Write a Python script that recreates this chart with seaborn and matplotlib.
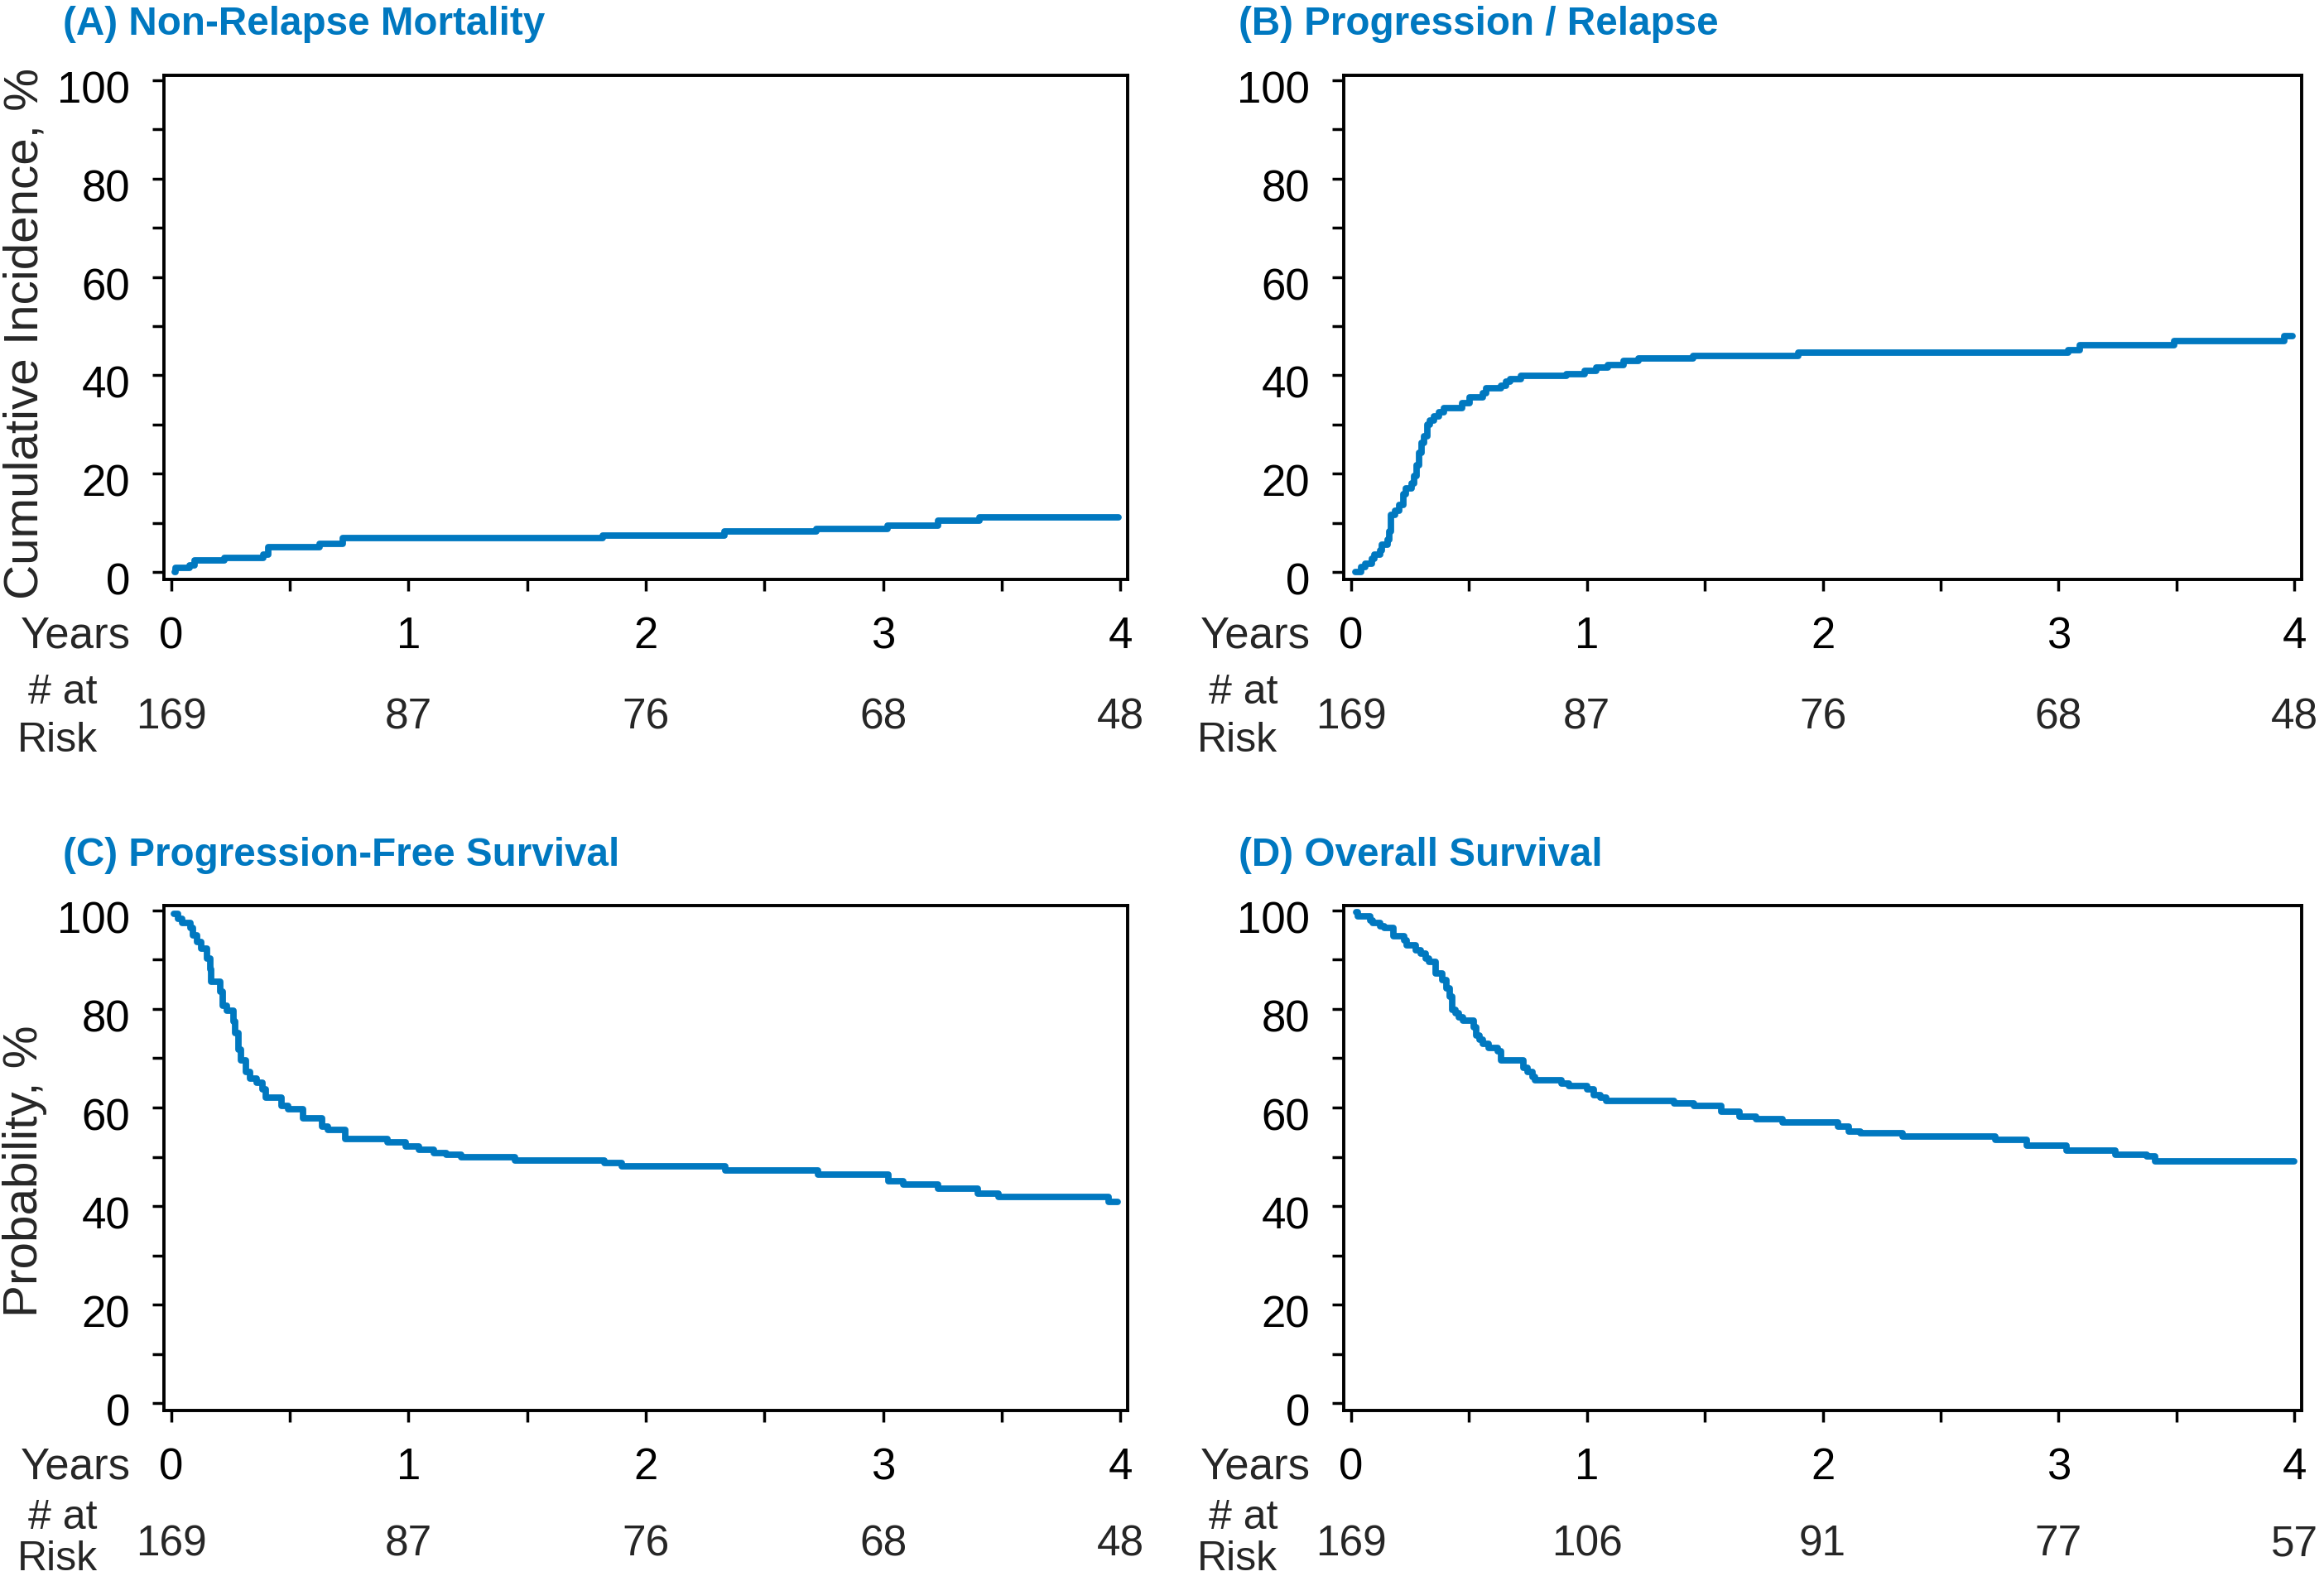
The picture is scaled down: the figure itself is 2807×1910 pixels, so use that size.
import matplotlib
matplotlib.use("Agg")
import matplotlib.pyplot as plt
import matplotlib.transforms as mtransforms
from matplotlib.ticker import MultipleLocator
import seaborn as sns

# ---------------- data ----------------
titles = ["(A) Non-Relapse Mortality", "(B) Progression / Relapse",
          "(C) Progression-Free Survival", "(D) Overall Survival"]
ylabels = ["Cumulative Incidence, %", "", "Probability, %", ""]
year_ticks = [0, 1, 2, 3, 4]

risk_a = [169, 87, 76, 68, 48]
risk_b = [169, 87, 76, 68, 48]
risk_c = [169, 87, 76, 68, 48]
risk_d = [169, 106, 91, 77, 57]

nrm_t = [0.016, 0.018, 0.079, 0.10, 0.226, 0.39, 0.41, 0.624, 0.724, 1.818,
         2.33, 2.72, 3.02, 3.23, 3.405, 3.99]
nrm_v = [0.0, 0.9, 1.4, 2.3, 2.9, 3.6, 5.1, 5.7, 6.9, 7.5,
         8.2, 8.8, 9.5, 10.5, 11.1, 11.1]

rel_t = [0.02, 0.042, 0.062, 0.09, 0.10, 0.124, 0.13, 0.155, 0.163, 0.17,
         0.186, 0.206, 0.222, 0.233, 0.256, 0.27, 0.278, 0.29, 0.30, 0.31,
         0.326, 0.336, 0.352, 0.372, 0.395, 0.473, 0.504, 0.558, 0.574, 0.636,
         0.659, 0.677, 0.721, 0.915, 0.992, 1.039, 1.09, 1.155, 1.22, 1.45,
         1.896, 3.04, 3.09, 3.49, 3.957, 3.99]
rel_v = [0.0, 1.0, 1.7, 2.7, 3.5, 4.4, 5.6, 6.6, 8.3, 11.7,
         12.5, 13.7, 15.9, 17.0, 18.0, 19.6, 21.8, 24.3, 26.3, 27.7,
         29.9, 30.8, 31.6, 32.5, 33.3, 34.4, 35.6, 36.4, 37.4, 37.9,
         38.7, 39.2, 39.9, 40.3, 40.9, 41.6, 42.1, 42.9, 43.4, 43.9,
         44.7, 45.2, 46.1, 46.9, 47.9, 47.9]

pfs_t = [0.012, 0.03, 0.048, 0.08, 0.093, 0.11, 0.128, 0.151, 0.164, 0.169,
         0.208, 0.217, 0.235, 0.262, 0.27, 0.283, 0.294, 0.315, 0.333, 0.36,
         0.386, 0.40, 0.466, 0.493, 0.555, 0.635, 0.662, 0.733, 0.911, 0.99,
         1.044, 1.107, 1.16, 1.222, 1.45, 1.824, 1.899, 2.335, 2.725, 3.021,
         3.085, 3.23, 3.40, 3.486, 3.951, 3.988]
pfs_v = [99.4, 98.3, 97.5, 96.4, 95.0, 93.6, 92.2, 90.2, 88.0, 85.5,
         83.5, 80.7, 79.6, 77.4, 75.1, 71.8, 69.6, 67.3, 65.9, 65.1,
         63.7, 62.0, 60.3, 59.6, 57.8, 56.1, 55.5, 53.6, 52.9, 52.1,
         51.4, 50.8, 50.4, 49.9, 49.3, 48.7, 48.0, 47.2, 46.4, 45.1,
         44.3, 43.6, 42.6, 41.8, 40.9, 40.9]

os_t = [0.023, 0.031, 0.082, 0.093, 0.124, 0.143, 0.179, 0.225, 0.238, 0.275,
        0.295, 0.316, 0.331, 0.358, 0.389, 0.404, 0.42, 0.428, 0.443, 0.459,
        0.474, 0.521, 0.533, 0.544, 0.56, 0.583, 0.622, 0.637, 0.731, 0.748,
        0.77, 0.782, 0.894, 0.925, 1.0, 1.031, 1.058, 1.081, 1.369, 1.454,
        1.571, 1.649, 1.719, 1.83, 2.066, 2.112, 2.16, 2.34, 2.733, 2.866,
        3.033, 3.24, 3.373, 3.41, 3.997]
os_v = [99.6, 98.8, 97.9, 97.4, 96.8, 96.5, 94.8, 94.0, 93.0, 92.0,
        91.2, 90.3, 89.5, 87.2, 85.8, 84.2, 82.5, 79.9, 79.1, 78.3,
        77.6, 76.3, 74.6, 73.8, 72.9, 72.1, 71.5, 69.6, 68.1, 67.3,
        66.3, 65.6, 64.9, 64.4, 63.7, 62.5, 62.0, 61.4, 60.8, 60.3,
        59.2, 58.2, 57.6, 57.0, 56.1, 55.2, 54.8, 54.1, 53.4, 52.2,
        51.3, 50.5, 50.1, 49.1, 49.1]

# ---------------- style ----------------
sns.set_style("ticks")
plt.rcParams["font.family"] = ["Liberation Sans", "DejaVu Sans"]
BLUE = "#0078C0"
TITLE_FAMILY = ["Liberation Sans", "DejaVu Sans"]

W, H = 2807, 1910
fig = plt.figure(figsize=(W / 100, H / 100), dpi=100)


def add_axes_px(left, top, right, bottom):
    return fig.add_axes([left / W, 1 - bottom / H, (right - left) / W, (bottom - top) / H])


panels = [
    dict(box=(198, 91, 1362, 700), t=nrm_t, v=nrm_v, risk=risk_a,
         title=titles[0], tpos=(76, 42), ylabel=ylabels[0], ly=0.487,
         rb=180, ra=150, rr=208),
    dict(box=(1623, 91, 2780, 700), t=rel_t, v=rel_v, risk=risk_b,
         title=titles[1], tpos=(1496, 42), ylabel=ylabels[1], ly=0.487,
         rb=180, ra=150, rr=208),
    dict(box=(198, 1094, 1362, 1704), t=pfs_t, v=pfs_v, risk=risk_c,
         title=titles[2], tpos=(76, 1046), ylabel=ylabels[2], ly=0.474,
         rb=175, ra=143, rr=193),
    dict(box=(1623, 1094, 2780, 1704), t=os_t, v=os_v, risk=risk_d,
         title=titles[3], tpos=(1496, 1046), ylabel=ylabels[3], ly=0.474,
         rb=175, ra=143, rr=193),
]

label_shift = mtransforms.ScaledTranslation(0, -8 / 100, fig.dpi_scale_trans)

for i, p in enumerate(panels):
    ax = add_axes_px(*p["box"])
    sns.lineplot(x=p["t"], y=p["v"], ax=ax, drawstyle="steps-post", color=BLUE,
                 linewidth=5.6, estimator=None, sort=False, legend=False)
    ax.set_xlim(-0.03, 4.03)
    ax.set_ylim(-1.5, 101)
    ax.xaxis.set_major_locator(MultipleLocator(1))
    ax.xaxis.set_minor_locator(MultipleLocator(0.5))
    ax.yaxis.set_major_locator(MultipleLocator(20))
    ax.yaxis.set_minor_locator(MultipleLocator(10))
    ax.set_xticks(year_ticks)
    ax.set_xticklabels([str(y) for y in year_ticks])
    for s in ax.spines.values():
        s.set_visible(True)
        s.set_linewidth(2.8)
        s.set_color("black")
    ax.tick_params(axis="both", which="both", direction="out", length=10,
                   width=2.5, color="black", labelsize=38, labelcolor="black")
    ax.tick_params(axis="x", which="both", pad=22)
    ax.tick_params(axis="y", which="both", pad=19.5)
    for lab in ax.get_yticklabels():
        lab.set_transform(lab.get_transform() + label_shift)
    ax.set_xlabel("")
    if p["ylabel"]:
        ax.set_ylabel(p["ylabel"], fontsize=42)
        ax.yaxis.set_label_coords(-0.121, p["ly"])
    else:
        ax.set_ylabel("")

    axh = p["box"][3] - p["box"][1]
    ax.text(-0.0344, -(82 / axh), "Years", transform=ax.transAxes, ha="right",
            va="baseline", fontsize=38)
    trans = mtransforms.blended_transform_factory(ax.transData, ax.transAxes)
    for x, n in zip(year_ticks, p["risk"]):
        ax.text(x, -(p["rb"] / axh), str(n), transform=trans, ha="center",
                va="baseline", fontsize=37)
    ax.text(-0.069, -(p["ra"] / axh), "# at", transform=ax.transAxes, ha="right",
            va="baseline", fontsize=36)
    ax.text(-0.069, -(p["rr"] / axh), "Risk", transform=ax.transAxes, ha="right",
            va="baseline", fontsize=36)

    fig.text(p["tpos"][0] / W, 1 - p["tpos"][1] / H, p["title"], ha="left",
             va="baseline", fontsize=34.3, fontweight="bold", color=BLUE,
             family=TITLE_FAMILY)

fig.savefig("out.png", dpi=100, facecolor="white")
